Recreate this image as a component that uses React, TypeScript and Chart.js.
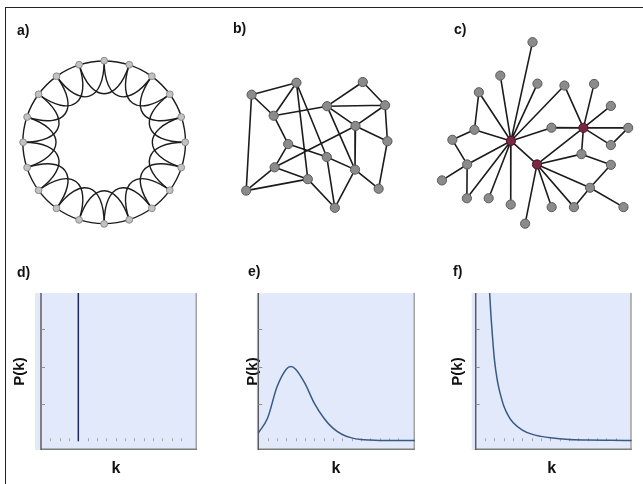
import React, { useEffect, useRef } from 'react';
import { Chart, registerables } from 'chart.js';

Chart.register(...registerables);

// ---------------- data ----------------
// a) ring lattice: 20 nodes, each linked to its 1st and 2nd neighbours on both sides
const ringNodes: [number, number][] = [
  [104, 58], [130.3, 62.2], [154, 74.2], [172.8, 93], [184.8, 116.7],
  [189, 143], [184.8, 169.3], [172.8, 193], [154, 211.8], [130.3, 223.8],
  [104, 228], [77.7, 223.8], [54, 211.8], [35.2, 193], [23.2, 169.3],
  [19, 143], [23.2, 116.7], [35.2, 93], [54, 74.2], [77.7, 62.2],
];
const ringNeighbourOffsets = [1, 2];

// b) random network
const randomNodes: [number, number][] = [
  [32.7, 93.3], [80, 80.7], [150, 80], [56, 115.3], [112.3, 105.3], [173.5, 104.3],
  [142.3, 126], [71.3, 145], [176, 142], [112, 158.5], [57, 169.3], [141.8, 171.7],
  [92, 181.7], [27, 193.7], [166.7, 191.7], [120.5, 211.7],
];
const randomEdges: [number, number][] = [
  [0, 1], [0, 3], [0, 13], [1, 3], [1, 12], [1, 9], [3, 7], [3, 4], [7, 10], [7, 9],
  [10, 12], [10, 13], [13, 12], [10, 6], [12, 15], [2, 4], [2, 5], [4, 5], [4, 6],
  [4, 11], [5, 6], [5, 8], [6, 8], [6, 11], [9, 11], [9, 15], [11, 14], [11, 15], [8, 14],
];

// c) scale-free network (first three nodes are the hubs)
const scaleFreeNodes: [number, number][] = [
  [79.5, 141.7], [156, 128], [107, 166.3],
  [102.3, 38.3], [68.3, 73.3], [107.5, 81.7], [45.7, 90.7], [136, 83.7], [167.3, 82],
  [185, 105], [41, 130], [17.7, 140.5], [122.3, 127.8], [203.3, 128], [185, 146],
  [154, 155.5], [33.3, 166.3], [185, 166.7], [6.7, 183], [163, 190.7], [33, 201.7],
  [56, 201.7], [79.3, 208.3], [122.5, 211], [146, 211], [198.3, 211], [94.5, 228.3],
];
const scaleFreeHubCount = 3;
const scaleFreeEdges: [number, number][] = [
  [0, 3], [0, 4], [0, 5], [0, 6], [0, 10], [0, 16], [0, 20], [0, 21], [0, 22], [0, 12], [0, 7], [0, 2],
  [1, 7], [1, 8], [1, 9], [1, 13], [1, 14], [1, 15], [1, 2], [1, 12],
  [2, 15], [2, 19], [2, 23], [2, 24], [2, 26],
  [6, 10], [10, 11], [11, 16], [16, 18], [16, 20], [13, 14], [15, 17], [17, 19], [19, 24], [19, 25],
];

// d) regular lattice degree distribution: spike at k = 4
const dK = [4, 4];
const dP = [0, 4];

// e) random network: Poisson-like degree distribution
const eK = [0, 1, 2, 3, 3.5, 4, 5, 6, 7, 8, 9, 10, 11, 12, 13, 14, 15, 16, 17];
const eP = [0.22, 0.62, 1.45, 1.93, 2.0, 1.93, 1.55, 1.02, 0.63, 0.35, 0.18, 0.09, 0.045, 0.03, 0.022, 0.02, 0.02, 0.02, 0.02];

// f) scale-free network: power-law degree distribution
const fK = [1.4, 1.6, 1.8, 2, 2.3, 2.6, 3, 3.5, 4, 5, 6, 7, 8, 10, 12, 14, 16, 17];
const fP = [4.4, 3.5, 2.8, 2.2, 1.65, 1.3, 0.95, 0.68, 0.5, 0.3, 0.19, 0.13, 0.09, 0.045, 0.032, 0.025, 0.02, 0.02];

// ---------------- styles ----------------
const EDGE = '#1c1c1c';
const PLOT_BG = '#e1e9fb';
const CURVE = '#3a5a86';
const SPIKE = '#1c2a58';
const LABEL_FONT = 'Liberation Sans, Arial, sans-serif';

const toPoints = (xs: number[], ys: number[]) => xs.map((x, i) => ({ x, y: ys[i] }));

function edgeData(nodes: [number, number][], edges: [number, number][]) {
  const out: { x: number; y: number }[] = [];
  edges.forEach(([a, b]) => {
    out.push({ x: nodes[a][0], y: nodes[a][1] }, { x: nodes[b][0], y: nodes[b][1] }, { x: NaN, y: NaN });
  });
  return out;
}

const ringPlugin = {
  id: 'ringEdges',
  beforeDatasetsDraw(chart: any) {
    const { ctx, scales } = chart;
    const pts = ringNodes.map(([a, b]) => [scales.x.getPixelForValue(a), scales.y.getPixelForValue(b)]);
    const n = pts.length;
    const cx = pts.reduce((s, p) => s + p[0], 0) / n;
    const cy = pts.reduce((s, p) => s + p[1], 0) / n;
    const r = pts.reduce((s, p) => s + Math.hypot(p[0] - cx, p[1] - cy), 0) / n;
    ctx.save();
    ctx.strokeStyle = EDGE;
    ctx.lineWidth = 1.4;
    ringNeighbourOffsets.forEach((off) => {
      for (let i = 0; i < n; i++) {
        const p = pts[i];
        const q = pts[(i + off) % n];
        ctx.beginPath();
        if (off === 1) {
          const a0 = Math.atan2(p[1] - cy, p[0] - cx);
          const a1 = Math.atan2(q[1] - cy, q[0] - cx);
          ctx.arc(cx, cy, r, a0, a1, false);
        } else {
          const k = 0.5;
          ctx.moveTo(p[0], p[1]);
          ctx.bezierCurveTo(cx + (p[0] - cx) * k, cy + (p[1] - cy) * k, cx + (q[0] - cx) * k, cy + (q[1] - cy) * k, q[0], q[1]);
        }
        ctx.stroke();
      }
    });
    ctx.restore();
  },
};

function networkConfig(w: number, h: number, nodes: [number, number][], edges: [number, number][], style: any, plugins: any[] = []) {
  return {
    type: 'scatter' as const,
    data: {
      datasets: [
        {
          data: nodes.map(([x, y]) => ({ x, y })),
          pointRadius: style.radius,
          pointBackgroundColor: nodes.map((_, i) => (i < (style.hubs || 0) ? style.hubFill : style.fill)),
          pointBorderColor: nodes.map((_, i) => (i < (style.hubs || 0) ? style.hubBorder : style.border)),
          pointBorderWidth: 1,
          order: 0,
        },
        {
          data: edgeData(nodes, edges),
          showLine: true,
          pointRadius: 0,
          borderColor: EDGE,
          borderWidth: 1.6,
          order: 1,
        },
      ],
    },
    options: {
      animation: false as const,
      responsive: false,
      events: [],
      layout: { padding: 0 },
      plugins: { legend: { display: false }, tooltip: { enabled: false } },
      scales: {
        x: { type: 'linear' as const, min: 0, max: w, display: false },
        y: { type: 'linear' as const, min: 0, max: h, reverse: true, display: false },
      },
    },
    plugins,
  };
}

const plotFrame = {
  id: 'plotFrame',
  beforeDraw(chart: any) {
    const { ctx, chartArea: a } = chart;
    ctx.save();
    ctx.fillStyle = PLOT_BG;
    ctx.fillRect(a.left, a.top, a.right - a.left, a.bottom - a.top);
    ctx.restore();
  },
  beforeDatasetsDraw(chart: any) {
    const { ctx, chartArea: a, scales } = chart;
    const x0 = scales.x.getPixelForValue(0);
    const y0 = scales.y.getPixelForValue(0);
    ctx.save();
    ctx.lineWidth = 1.5;
    ctx.strokeStyle = '#a2a2a2';
    ctx.beginPath(); ctx.moveTo(a.right - 0.75, a.top); ctx.lineTo(a.right - 0.75, a.bottom); ctx.stroke();
    ctx.strokeStyle = '#7c7c7c';
    ctx.beginPath(); ctx.moveTo(x0, a.bottom - 0.75); ctx.lineTo(a.right, a.bottom - 0.75); ctx.stroke();
    ctx.strokeStyle = '#5c5c5c';
    ctx.beginPath(); ctx.moveTo(x0, a.top); ctx.lineTo(x0, a.bottom); ctx.stroke();
    ctx.lineWidth = 1;
    ctx.strokeStyle = '#8f8f8f';
    scales.y.ticks.filter((t: any) => Number.isInteger(t.value) && t.value >= 0).forEach((t: any) => {
      const py = Math.round(scales.y.getPixelForValue(t.value)) + 0.5;
      ctx.beginPath(); ctx.moveTo(x0, py); ctx.lineTo(x0 + 4, py); ctx.stroke();
    });
    ctx.strokeStyle = '#a8a8a8';
    scales.x.ticks.filter((t: any) => Number.isInteger(t.value) && t.value > 0).forEach((t: any) => {
      const px = Math.round(scales.x.getPixelForValue(t.value)) + 0.5;
      ctx.beginPath(); ctx.moveTo(px, y0 - 3); ctx.lineTo(px, y0); ctx.stroke();
    });
    ctx.restore();
  },
};

function plotConfig(datasets: any[], p: any) {
  return {
    type: 'line' as const,
    data: { datasets },
    options: {
      animation: false as const,
      responsive: false,
      events: [],
      layout: { padding: p.padding },
      plugins: { legend: { display: false }, tooltip: { enabled: false } },
      scales: {
        x: {
          type: 'linear' as const,
          min: p.xMin,
          max: p.xMax,
          ticks: { display: false, stepSize: 1 },
          grid: { display: false, drawTicks: false },
          border: { display: false },
          title: { display: true, text: 'k', color: '#111', font: { family: LABEL_FONT, size: 16, weight: 'bold' as const, lineHeight: 1.2 }, padding: { top: 8.7, bottom: 0 } },
        },
        y: {
          type: 'linear' as const,
          min: -0.235,
          max: 3.97,
          ticks: { display: false, stepSize: 1 },
          grid: { display: false, drawTicks: false },
          border: { display: false },
          title: { display: true, text: 'P(k)', color: '#111', font: { family: LABEL_FONT, size: 15, weight: 'bold' as const, lineHeight: 1.2 }, padding: { top: 0, bottom: p.yTitleGap } },
        },
      },
    },
    plugins: [plotFrame],
  };
}

const curveStyle = { pointRadius: 0, borderWidth: 1.5, fill: false, cubicInterpolationMode: 'monotone' as const };

const panels = [
  { left: 0, top: 0, width: 215, height: 250, make: () => networkConfig(215, 250, ringNodes, [], { radius: 3.4, fill: '#c2c2c2', border: '#8a8a8a' }, [ringPlugin]) },
  { left: 215, top: 0, width: 215, height: 250, make: () => networkConfig(215, 250, randomNodes, randomEdges, { radius: 4.6, fill: '#8b8b8b', border: '#575757' }) },
  { left: 430, top: 0, width: 213, height: 250, make: () => networkConfig(213, 250, scaleFreeNodes, scaleFreeEdges, { radius: 4.6, fill: '#8b8b8b', border: '#5a5a5a', hubs: scaleFreeHubCount, hubFill: '#7a2840', hubBorder: '#4c1426' }) },
  { left: 0, top: 250, width: 215, height: 234, make: () => plotConfig([{ data: toPoints(dK, dP), borderColor: SPIKE, ...curveStyle }], { xMin: -0.643, xMax: 16.72, padding: { left: 11, top: 43, right: 18, bottom: 6.1 }, yTitleGap: 6 }) },
  { left: 215, top: 250, width: 215, height: 234, make: () => plotConfig([{ data: toPoints(eK, eP), borderColor: CURVE, ...curveStyle }], { xMin: -0.17, xMax: 16.8, padding: { left: 28.5, top: 43, right: 15, bottom: 6.1 }, yTitleGap: -4.8 }) },
  { left: 430, top: 250, width: 213, height: 234, make: () => plotConfig([{ data: toPoints(fK, fP), borderColor: CURVE, ...curveStyle }], { xMin: -0.43, xMax: 16.72, padding: { left: 19.3, top: 43, right: 11.3, bottom: 6.1 }, yTitleGap: 4.4 }) },
];

const panelLetters = [
  { text: 'a)', left: 17, top: 23 },
  { text: 'b)', left: 233, top: 21 },
  { text: 'c)', left: 454, top: 22 },
  { text: 'd)', left: 17, top: 265 },
  { text: 'e)', left: 248, top: 264 },
  { text: 'f)', left: 453, top: 264 },
];

function ChartPanel({ left, top, width, height, make }: any) {
  const ref = useRef<HTMLCanvasElement>(null);
  useEffect(() => {
    const chart = new Chart(ref.current as HTMLCanvasElement, make() as any);
    return () => chart.destroy();
  }, []);
  return <canvas ref={ref} width={width} height={height} style={{ position: 'absolute', left, top, width, height }} />;
}

export default function App() {
  return (
    <div style={{ position: 'fixed', left: 0, top: 0, width: 643, height: 484, background: '#fff', overflow: 'hidden' }}>
      <div style={{ position: 'absolute', left: 5, top: 7, width: 660, height: 500, borderLeft: '1px solid #222', borderTop: '1px solid #222' }} />
      {panels.map((p, i) => (
        <ChartPanel key={i} {...p} />
      ))}
      {panelLetters.map((l) => (
        <span key={l.text} style={{ position: 'absolute', left: l.left, top: l.top, font: `bold 14px ${LABEL_FONT}`, lineHeight: '14px', color: '#111' }}>
          {l.text}
        </span>
      ))}
    </div>
  );
}
